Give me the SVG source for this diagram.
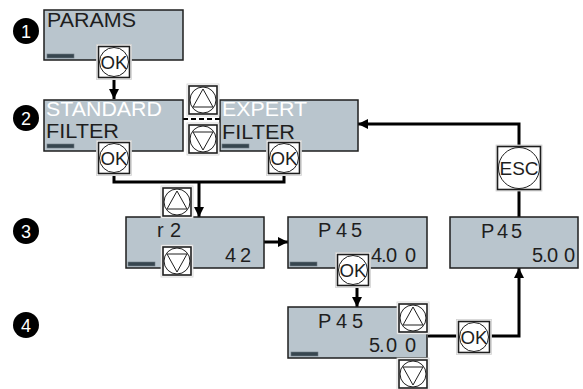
<svg xmlns="http://www.w3.org/2000/svg" width="583" height="389" viewBox="0 0 583 389">
<style>
text{font-family:"Liberation Sans",Arial,sans-serif}
.disp{fill:#b9c5cd;stroke:#1e1e1e;stroke-width:1.5}
.bar{fill:#37464f;stroke:#6d7a82;stroke-width:0.6}
.lbl{font-size:20px;fill:#1e1e1e}
.wl{fill:#ffffff}
.val{font-size:20px;fill:#1e1e1e}
.halo{fill:#ffffff;stroke:#d0d0d0;stroke-width:0.8}
.key{fill:#ffffff;stroke:#1e1e1e;stroke-width:1.6}
.ring{fill:#ffffff;stroke:#1e1e1e;stroke-width:1}
.ktxt{font-size:18px;fill:#1e1e1e;text-anchor:middle}
.tri{fill:none;stroke:#1e1e1e;stroke-width:1}
.num{fill:#000}
.ntxt{font-size:18px;fill:#fff;text-anchor:middle}
.wire{fill:none;stroke:#000;stroke-width:3}
.dash{fill:none;stroke:#000;stroke-width:2;stroke-dasharray:5 3}
</style>
<defs>
<marker id="ah" markerUnits="userSpaceOnUse" markerWidth="10" markerHeight="10" viewBox="0 0 10 10" refX="10" refY="5" orient="auto">
<path d="M0,0 L10,5 L0,10 z" fill="#000"/>
</marker>
<g id="okkey">
<rect class="halo" x="-17.5" y="-17.5" width="35" height="35"/>
<rect class="key" x="-15.5" y="-15.5" width="31" height="31"/>
<circle class="ring" cx="0" cy="0" r="14.5"/>
<text class="ktxt" x="0" y="6.5" textLength="27" lengthAdjust="spacingAndGlyphs">OK</text>
</g>
<g id="upkey">
<rect class="halo" x="-16" y="-16" width="32" height="32"/>
<rect class="key" x="-14" y="-14" width="28" height="28"/>
<circle class="ring" cx="0" cy="0" r="13"/>
<path class="tri" d="M0,-11 L10,7 L-10,7 z"/>
</g>
<g id="downkey">
<rect class="halo" x="-16" y="-16" width="32" height="32"/>
<rect class="key" x="-14" y="-14" width="28" height="28"/>
<circle class="ring" cx="0" cy="0" r="13"/>
<path class="tri" d="M0,11 L10,-7 L-10,-7 z"/>
</g>
</defs>

<g id="connectors">
<path class="wire" d="M114,80 V99" marker-end="url(#ah)"/>
<path class="wire" d="M114,176 V182 H284 V176"/>
<path class="wire" d="M199,182 V217" marker-end="url(#ah)"/>
<path class="wire" d="M264,242 H288" marker-end="url(#ah)"/>
<path class="wire" d="M357,288 V307" marker-end="url(#ah)"/>
<path class="wire" d="M428,336 H519 V268" marker-end="url(#ah)"/>
<path class="wire" d="M519,217 V124 H358" marker-end="url(#ah)"/>
<path class="dash" d="M183,119 H220"/>
</g>

<g id="step1">
<circle class="num" cx="26" cy="31" r="13"/>
<text class="ntxt" x="26" y="37.5">1</text>
</g>
<g id="step2">
<circle class="num" cx="26" cy="118" r="13"/>
<text class="ntxt" x="26" y="124.5">2</text>
</g>
<g id="step3">
<circle class="num" cx="26" cy="231" r="13"/>
<text class="ntxt" x="26" y="237.5">3</text>
</g>
<g id="step4">
<circle class="num" cx="26" cy="325" r="13"/>
<text class="ntxt" x="26" y="331.5">4</text>
</g>

<g id="params">
<rect class="disp" x="44" y="10" width="139" height="50"/>
<text class="lbl" x="47" y="27" textLength="89" lengthAdjust="spacingAndGlyphs">PARAMS</text>
<rect class="bar" x="47" y="54" width="27" height="4"/>
</g>
<use id="ok1" href="#okkey" x="114" y="62"/>

<g id="standard">
<rect class="disp" x="44" y="100" width="139" height="51"/>
<text class="lbl wl" x="46" y="116" textLength="116" lengthAdjust="spacingAndGlyphs">STANDARD</text>
<text class="lbl" x="46" y="138" textLength="73" lengthAdjust="spacingAndGlyphs">FILTER</text>
<rect class="bar" x="47" y="144" width="27" height="4"/>
</g>
<use id="ok2" href="#okkey" x="114" y="158"/>

<g id="expert">
<rect class="disp" x="220" y="100" width="138" height="51"/>
<text class="lbl wl" x="222" y="116" textLength="85" lengthAdjust="spacingAndGlyphs">EXPERT</text>
<text class="lbl" x="222" y="139" textLength="73" lengthAdjust="spacingAndGlyphs">FILTER</text>
<rect class="bar" x="222" y="144" width="27" height="4"/>
</g>
<use id="ok3" href="#okkey" x="284" y="158"/>
<use id="up2" href="#upkey" x="203" y="100"/>
<use id="down2" href="#downkey" x="203" y="139"/>

<g id="esc">
<rect class="halo" x="496" y="145" width="46" height="46"/>
<rect class="key" x="497.5" y="146.5" width="43" height="43"/>
<circle class="ring" cx="519" cy="168" r="20.5"/>
<text class="ktxt" x="519" y="175" style="font-size:19px" textLength="39" lengthAdjust="spacingAndGlyphs">ESC</text>
</g>

<g id="p45right">
<rect class="disp" x="450" y="217" width="128" height="51"/>
<text class="val" x="481" y="238">P</text>
<text class="val wl" x="497 511" y="238">45</text>
<text class="val" x="532 542 547 564" y="262">5.00</text>
</g>

<g id="r2">
<rect class="disp" x="126" y="217" width="138" height="51"/>
<text class="val" x="157" y="237">r</text>
<text class="val wl" x="170" y="237">2</text>
<text class="val" x="225 240" y="262">42</text>
<rect class="bar" x="128" y="262" width="27" height="4"/>
</g>
<use id="up3" href="#upkey" x="177" y="202"/>
<use id="down3" href="#downkey" x="177" y="261"/>

<g id="p45a">
<rect class="disp" x="288" y="217" width="139" height="51"/>
<text class="val" x="318" y="237">P</text>
<text class="val wl" x="336 351" y="237">45</text>
<text class="val" x="371 381 386 405" y="262">4.00</text>
<rect class="bar" x="290" y="262" width="27" height="4"/>
</g>
<use id="ok4" href="#okkey" x="353" y="270"/>

<g id="p45b">
<rect class="disp" x="288" y="307" width="139" height="51"/>
<text class="val" x="318 336 352" y="328">P45</text>
<text class="val wl" x="369 379 386 405" y="352">5.00</text>
<rect class="bar" x="291" y="352" width="27" height="4"/>
</g>
<use id="up4" href="#upkey" x="413" y="318"/>
<use id="down4" href="#downkey" x="413" y="374"/>
<use id="ok5" href="#okkey" x="474" y="337"/>
</svg>
